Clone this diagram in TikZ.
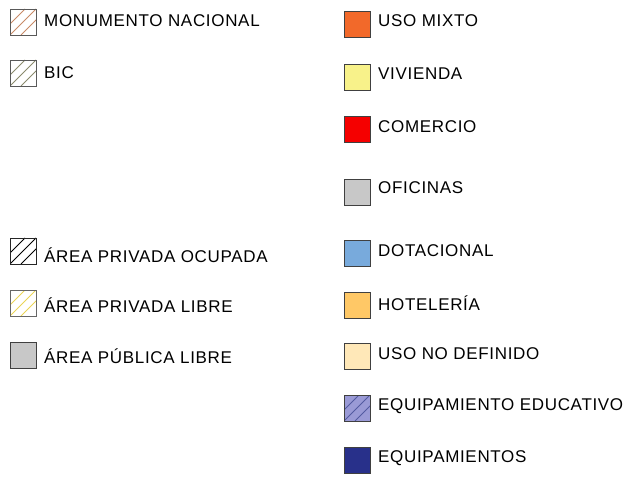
\documentclass[tikz,border=0pt]{standalone}
\usepackage{fontspec}
\setmainfont[LetterSpace=4]{Liberation Sans}

\definecolor{monuHatch}{HTML}{C88A66}
\definecolor{bicHatch}{HTML}{8A8A6C}
\definecolor{libreHatch}{HTML}{EAD455}
\definecolor{grisLibre}{HTML}{C8C8C8}
\definecolor{usoMixto}{HTML}{F2692A}
\definecolor{vivienda}{HTML}{F8F28A}
\definecolor{comercio}{HTML}{F50000}
\definecolor{oficinas}{HTML}{C8C8C8}
\definecolor{dotacional}{HTML}{78AADC}
\definecolor{hoteleria}{HTML}{FFC866}
\definecolor{noDefinido}{HTML}{FFE8B8}
\definecolor{educativo}{HTML}{9A9AD6}
\definecolor{equipam}{HTML}{28308A}

\begin{document}
\begin{tikzpicture}[x=1pt, y=-1pt,
    swatch/.style={draw=black!75, line width=0.9pt},
    legtext/.style={anchor=base west, inner sep=0pt, font=\fontsize{17}{19}\selectfont}]
    \useasboundingbox (0,0) rectangle (632,481);

    % hatched squares, left column (name/top/hatch/border/baseline/text)
    \foreach \n/\y/\h/\b/\t/\txt in {monu/9/monuHatch/black!65/27/MONUMENTO NACIONAL,
        bic/60/bicHatch/black!65/79/BIC,
        ocup/238/black/black!85/262/ÁREA PRIVADA OCUPADA,
        libre/290/libreHatch/black!60/312/ÁREA PRIVADA LIBRE} {
        \begin{scope}
            \clip (10,\y) rectangle +(26,26);
            \foreach \c in {-11,0,11}
                \draw[\h, line width=1pt] (10+\c,\y+26) -- (36+\c,\y);
        \end{scope}
        \draw[swatch, draw=\b] (10,\y) rectangle +(26,26);
        \node[legtext] (\n) at (44,\t) {\txt};
    }

    % plain grey square
    \draw[swatch, fill=grisLibre] (10,342) rectangle +(26,26);
    \node[legtext] (publica) at (44,363) {ÁREA PÚBLICA LIBRE};

    % filled squares, right column (name/top/fill/baseline/text)
    \foreach \n/\y/\f/\t/\txt in {mixto/11/usoMixto/27/USO MIXTO,
        viv/64/vivienda/80/VIVIENDA,
        com/116/comercio/133/COMERCIO,
        ofi/179/oficinas/194/OFICINAS,
        dot/240/dotacional/257/DOTACIONAL,
        hot/292/hoteleria/310/HOTELERÍA,
        nodef/343/noDefinido/359/USO NO DEFINIDO,
        educ/395/educativo/410/EQUIPAMIENTO EDUCATIVO,
        equip/447/equipam/462/EQUIPAMIENTOS} {
        \draw[swatch, fill=\f] (344,\y) rectangle +(26,26);
        \node[legtext] (\n) at (378,\t) {\txt};
    }

    % hatch over the educational square
    \begin{scope}
        \clip (344,395) rectangle +(26,26);
        \foreach \c in {-11,0,11}
            \draw[equipam!80, line width=0.9pt] (344+\c,421) -- (370+\c,395);
    \end{scope}
    \draw[swatch] (344,395) rectangle +(26,26);
\end{tikzpicture}
\end{document}
